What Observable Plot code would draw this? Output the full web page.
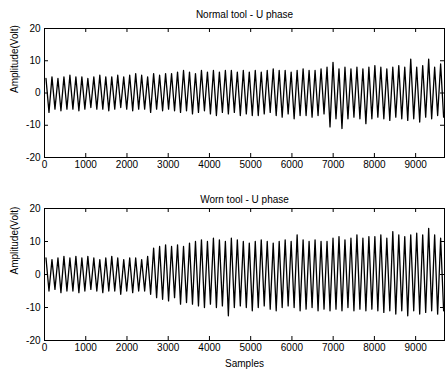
<!DOCTYPE html>
<html>
<head>
<meta charset="utf-8">
<script src="https://cdn.jsdelivr.net/npm/d3@7"></script>
<script src="https://cdn.jsdelivr.net/npm/@observablehq/plot@0.6"></script>
<style>
  body { margin: 0; background: #fff; }
  #chart { width: 445px; }
  #chart svg { display: block; }
</style>
</head>
<body>
<div id="chart"></div>
<script>
// Per-cycle peak (max) and trough (min) amplitudes
const period = 145; // samples per oscillation cycle (approx.)
const normalPeaks = [4.5,5,4.5,5,5.5,5,5,4.5,5,5.5,5,5,5.5,5,
  5.5,6,5.5,5,6,5.5,6,
  6,6.5,7,6.5,6,7,6.5,7,6.5,7,7,6.5,7,6.5,
  7,6.5,7,7.5,7,7,6.5,7,7.5,7,7,7.5,
  8,9.5,7.5,8,
  7.5,8,7.5,8,8.5,8,7.5,8,8.5,8,
  10.5,8,8.5,10.5,8,9];
const normalTroughs = [-6,-5,-5.5,-5,-5,-5.5,-5,-4.5,-5,-5,-5.5,-5,-4.5,-5,
  -5.5,-5,-5,-6,-5,-5.5,-5,
  -5.5,-6,-5.5,-6.5,-6,-5.5,-6.5,-7,-6,-6.5,-6,-7,-6.5,-7,
  -7,-6.5,-6,-7,-7.5,-6.5,-8,-7,-7,-7.5,-7,-6.5,
  -10.5,-8,-11,-8,
  -7.5,-8,-9.5,-8,-7.5,-8,-8.5,-7.5,-8,-8.5,
  -8,-9,-7.5,-8,-7,-7.5];
const wornPeaks = [5,4.5,5,5.5,5,5.5,5,5.5,5,4.5,5,5.5,5,4.5,5,5,4.5,5.5,
  8,8.5,9,8.5,9,8.5,
  9.5,10,10.5,10,11,10.5,10,
  11,10.5,10,9.5,10,10.5,10,9.5,10,10.5,10,12,10.5,10,10.5,10,10,
  11,11.5,10.5,11,12,11,11.5,
  11.5,12,11,13,12,11.5,12,12.5,12,14,12,11];
const wornTroughs = [-5,-4.5,-5.5,-5,-5,-5.5,-5,-4.5,-5,-5.5,-5,-5,-6,-5,-5.5,-5,-5,-6,
  -7,-7.5,-8,-7,-9,-8.5,
  -9,-9.5,-10,-9,-10,-9.5,-12.5,
  -10,-9.5,-10,-11,-10,-9.5,-10.5,-11,-10,-9.5,-10,-11,-10.5,-10,-11,-10.5,-11,
  -10.5,-11,-10,-11,-10.5,-11,-10.5,
  -11,-11.5,-11,-12,-11,-12.5,-11,-12,-11.5,-11,-12,-11];

const xTicks = [0,1000,2000,3000,4000,5000,6000,7000,8000,9000];
const yTicks = [-20,-10,0,10,20];
const xDomain = [0, 9700];
const yDomain = [-20, 20];

function toSeries(peaks, troughs) {
  const out = [];
  peaks.forEach((p, i) => {
    out.push({sample: i * period + period * 0.25, amp: p});
    out.push({sample: i * period + period * 0.75, amp: troughs[i]});
  });
  return out;
}

const font = "'Liberation Sans', Arial, Helvetica, sans-serif";

function panel({title, series, height, marginTop, marginBottom, xlabel}) {
  const W = 445 - 44 - 1;
  const H = height - marginTop - marginBottom;
  const marks = [
    Plot.line(series, {x: "sample", y: "amp", stroke: "#000", strokeWidth: 1.3}),
    Plot.frame({stroke: "#000", strokeWidth: 1}),
    Plot.tickX(xTicks, {x: d => d, insetTop: H - 4, stroke: "#000"}),
    Plot.tickX(xTicks, {x: d => d, insetBottom: H - 4, stroke: "#000"}),
    Plot.tickY(yTicks, {y: d => d, insetRight: W - 4, stroke: "#000"}),
    Plot.tickY(yTicks, {y: d => d, insetLeft: W - 4, stroke: "#000"}),
    Plot.axisX({ticks: xTicks, tickSize: 0, tickPadding: 3, tickFormat: d => String(d), label: null, fontSize: 10}),
    Plot.axisY({ticks: yTicks, tickSize: 0, tickPadding: 4, tickFormat: d => String(d), label: null, fontSize: 10}),
    Plot.text([title], {frameAnchor: "top", dy: -(marginTop - 10), fontSize: 10, fill: "#000"}),
    Plot.text(["Amplitude(Volt)"], {frameAnchor: "left", dx: -30, rotate: -90, fontSize: 10, fill: "#000"})
  ];
  if (xlabel) marks.push(Plot.text([xlabel], {frameAnchor: "bottom", dy: 26, fontSize: 10, fill: "#000"}));
  return Plot.plot({
    width: 445,
    height,
    marginLeft: 44,
    marginRight: 1,
    marginTop,
    marginBottom,
    style: {fontFamily: font, fontSize: "10px", color: "#000", background: "#fff"},
    x: {domain: xDomain},
    y: {domain: yDomain},
    marks
  });
}

const chart = document.getElementById("chart");
chart.appendChild(panel({title: "Normal tool - U phase", series: toSeries(normalPeaks, normalTroughs), height: 185, marginTop: 28, marginBottom: 28}));
chart.appendChild(panel({title: "Worn tool - U phase", series: toSeries(wornPeaks, wornTroughs), height: 188, marginTop: 23, marginBottom: 33, xlabel: "Samples"}));
</script>
</body>
</html>
